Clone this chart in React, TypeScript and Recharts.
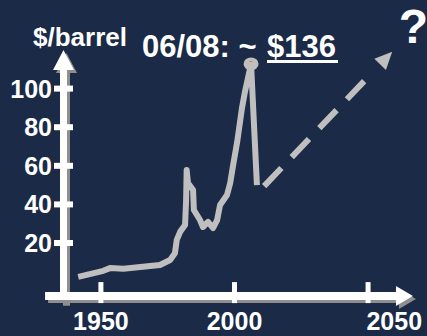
import React from "react";
import { LineChart, Line, XAxis, YAxis, ReferenceLine, ReferenceDot } from "recharts";

// oil price history ($/barrel)
const years = [
  1941.5, 1950.9, 1953.4, 1958.4, 1972.1, 1975.9, 1977.7, 1978.4, 1979.7, 1981.5, 1981.9,
  1982.1, 1982.6, 1984.5, 1984.8, 1987.1, 1988.2, 1990.1, 1992.0, 1993.5, 1994.6, 1997.2,
  1998.4, 1999.5, 2001.0, 2002.8, 2003.9, 2006.2, 2008.4,
];
const prices = [
  2.5, 5.6, 7.0, 6.7, 8.6, 11.2, 14.7, 21.6, 25.9, 29.3, 42.3,
  57.8, 51.1, 47.5, 37.1, 31.9, 28.3, 30.9, 27.8, 31.9, 39.7, 44.9,
  51.1, 60.4, 72.3, 89.9, 98.2, 112.8, 50.0,
];

// dashed "?" projection
const projYears = [2011.1, 2050];
const projPrices = [49.5, 106];

const peakYear = 2006.2;
const peakPrice = 112.8;

const xTicks = [1950, 2000, 2050];
const yTicks = [20, 40, 60, 80, 100];

const BG = "#1b2a46";
const GRAY = "#bfbfbf";
const SHADOW = "#8f8f8f";
const FONT = "'Liberation Sans', Arial, sans-serif";

const lineData = years.map((year, i) => ({ year, price: prices[i] }));
const projData = projYears.map((year, i) => ({ year, proj: projPrices[i] }));

function arrowPoints(x1: number, y1: number, x2: number, y2: number, w: number, hw: number, hl: number) {
  const len = Math.hypot(x2 - x1, y2 - y1);
  const ux = (x2 - x1) / len;
  const uy = (y2 - y1) / len;
  const nx = -uy;
  const ny = ux;
  const bx = x2 - ux * hl;
  const by = y2 - uy * hl;
  const pts = [
    [x1 + nx * w / 2, y1 + ny * w / 2],
    [bx + nx * w / 2, by + ny * w / 2],
    [bx + nx * hw, by + ny * hw],
    [x2, y2],
    [bx - nx * hw, by - ny * hw],
    [bx - nx * w / 2, by - ny * w / 2],
    [x1 - nx * w / 2, y1 - ny * w / 2],
  ];
  return pts.map((p) => p.join(",")).join(" ");
}

const makeAxisArrow = (w: number, hw: number, hl: number) => (props: any) => {
  const { x1, y1, x2, y2 } = props;
  return (
    <g>
      <polygon points={arrowPoints(x1 + 3, y1 + 3, x2 + 3, y2 + 3, w, hw, hl)} fill={SHADOW} />
      <polygon points={arrowPoints(x1, y1, x2, y2, w, hw, hl)} fill="#ffffff" />
    </g>
  );
};

const XTick = (props: any) => {
  const { x, y, payload, index, visibleTicksCount } = props;
  const last = index === visibleTicksCount - 1;
  return (
    <g>
      <rect x={x - 2.5} y={y - 14} width={5} height={21} fill="#ffffff" />
      <text
        x={last ? x + 54 : x}
        y={y + 34}
        textAnchor={last ? "end" : "middle"}
        fill="#ffffff"
        fontSize={25}
        fontWeight="bold"
        fontFamily={FONT}
      >
        {payload.value}
      </text>
    </g>
  );
};

const YTick = (props: any) => {
  const { x, y, payload } = props;
  return (
    <g>
      <rect x={x - 9.5} y={y - 3} width={19} height={6} fill="#ffffff" />
      <text x={x - 11.5} y={y} dy="0.36em" textAnchor="end" fill="#ffffff" fontSize={25} fontWeight="bold" fontFamily={FONT}>
        {payload.value}
      </text>
    </g>
  );
};

const PeakMarker = (props: any) => {
  const { cx, cy } = props;
  return (
    <g>
      <ellipse cx={cx} cy={cy} rx={7.5} ry={6.5} fill={GRAY} />
      <rect x={cx - 1.5} y={cy - 3} width={3} height={1} fill="#e87722" />
    </g>
  );
};

const prev = { x: 0, y: 0 };
const ProjArrow = (props: any) => {
  const { cx, cy, index } = props;
  if (index === 0) {
    prev.x = cx;
    prev.y = cy;
    return <g key={`pa${index}`} />;
  }
  const len = Math.hypot(cx - prev.x, cy - prev.y);
  const ux = (cx - prev.x) / len;
  const uy = (cy - prev.y) / len;
  const bx = cx + ux * 17.5;
  const by = cy + uy * 17.5;
  const tx = cx + ux * 35;
  const ty = cy + uy * 35;
  const pts = [
    [tx, ty],
    [bx - uy * 8, by + ux * 8],
    [bx + uy * 8, by - ux * 8],
  ];
  return <polygon key={`pa${index}`} points={pts.map((p) => p.join(",")).join(" ")} fill={GRAY} />;
};

export default function App() {
  return (
    <div style={{ position: "absolute", left: 0, top: 0, width: 427, height: 336, background: BG, overflow: "hidden" }}>
      <LineChart width={427} height={336} margin={{ top: 11.4, right: 5.5, bottom: 0, left: 0 }}>
        <XAxis
          type="number"
          dataKey="year"
          domain={[1936, 2070]}
          ticks={xTicks}
          interval={0}
          height={39.9}
          axisLine={false}
          tickLine={false}
          tickSize={0}
          tickMargin={0}
          tick={XTick}
          allowDataOverflow
        />
        <YAxis
          type="number"
          domain={[-7.5, 140]}
          ticks={yTicks}
          interval={0}
          width={63.5}
          axisLine={false}
          tickLine={false}
          tickSize={0}
          tickMargin={0}
          tick={YTick}
          allowDataOverflow
        />
        <ReferenceLine
          segment={[{ x: 1936, y: -11 }, { x: 1936, y: 120 }]}
          ifOverflow="visible"
          shape={makeAxisArrow(7, 10.5, 20)}
        />
        <ReferenceLine
          segment={[{ x: 1929.1, y: -7.5 }, { x: 2066.8, y: -7.5 }]}
          ifOverflow="visible"
          shape={makeAxisArrow(8, 10, 17)}
        />
        <Line
          data={lineData}
          dataKey="price"
          type="linear"
          stroke={GRAY}
          strokeWidth={6}
          strokeLinejoin="round"
          dot={false}
          activeDot={false}
          isAnimationActive={false}
        />
        <Line
          data={projData}
          dataKey="proj"
          type="linear"
          stroke={GRAY}
          strokeWidth={6}
          strokeDasharray="25 15"
          dot={ProjArrow}
          activeDot={false}
          isAnimationActive={false}
        />
        <ReferenceDot x={peakYear} y={peakPrice} ifOverflow="visible" shape={PeakMarker} />
      </LineChart>
      <svg width={427} height={336} style={{ position: "absolute", left: 0, top: 0, pointerEvents: "none" }}>
        <text x={33} y={46} fill="#ffffff" fontSize={26} fontWeight="bold" fontFamily={FONT}>
          $/barrel
        </text>
        <text x={142} y={57} fill="#ffffff" fontSize={31} fontWeight="bold" fontFamily={FONT}>
          06/08: ~
        </text>
        <text x={267} y={57} fill="#ffffff" fontSize={31} fontWeight="bold" fontFamily={FONT}>
          $136
        </text>
        <rect x={267} y={60} width={71} height={3} fill="#ffffff" />
        <text x={413.5} y={43} textAnchor="middle" fill="#ffffff" fontSize={48} fontWeight="bold" fontFamily={FONT}>
          ?
        </text>
      </svg>
    </div>
  );
}
